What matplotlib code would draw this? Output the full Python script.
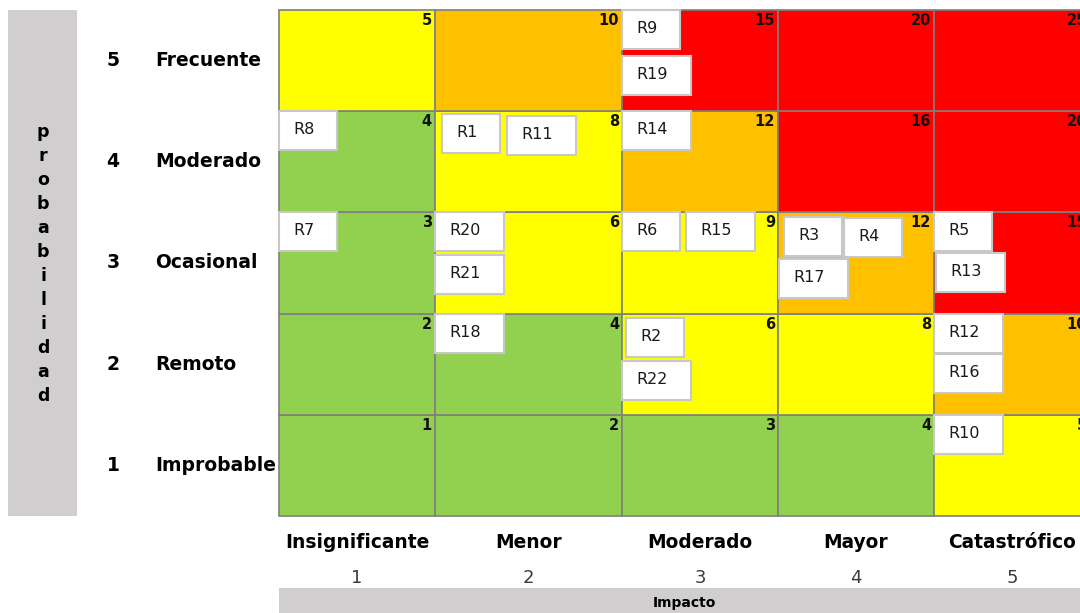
"""
Risk matrix (probabilidad x impacto) with the risks placed in their cells
"""

import matplotlib
matplotlib.use("Agg")
import numpy as np
import matplotlib.pyplot as plt
from matplotlib.patches import Rectangle


# Categories
prob_labels = ['Improbable', 'Remoto', 'Ocasional', 'Moderado', 'Frecuente']
impact_labels = ['Insignificante', 'Menor', 'Moderado', 'Mayor', 'Catastrófico']

# Score levels: upper limit of each level and its colour
level_limits = [4, 9, 12, 25]
level_colors = ['#92D050', '#FFFF00', '#FFC000', '#FF0000']

# Risks: name, probability (1-5), impact (1-5)
risk_names = ['R1', 'R2', 'R3', 'R4', 'R5', 'R6', 'R7', 'R8', 'R9', 'R10', 'R11',
              'R12', 'R13', 'R14', 'R15', 'R16', 'R17', 'R18', 'R19', 'R20', 'R21', 'R22']
risk_prob = [4, 2, 3, 3, 3, 3, 3, 4, 5, 1, 4, 2, 3, 4, 3, 2, 3, 2, 5, 3, 3, 2]
risk_impact = [2, 3, 4, 4, 5, 3, 1, 1, 3, 5, 2, 5, 5, 3, 3, 5, 4, 2, 3, 2, 2, 3]

# Layout (pixels): offset of each risk box from the top-left corner of its cell
box_offset = {
    'R1': (7, 3), 'R2': (4, 4), 'R3': (6, 5), 'R4': (66, 6), 'R5': (0, 0),
    'R6': (0, 0), 'R7': (0, 0), 'R8': (0, 0), 'R9': (0, 0), 'R10': (0, 0),
    'R11': (72, 5), 'R12': (0, 0), 'R13': (2, 41), 'R14': (0, 0), 'R15': (64, 0),
    'R16': (0, 40), 'R17': (1, 47), 'R18': (0, 0), 'R19': (0, 46), 'R20': (0, 0),
    'R21': (0, 43), 'R22': (0, 47),
}

W, H = 1080, 613
col_w = np.array([156, 187, 156, 156, 156])
row_h = 101.2
col_edges = np.concatenate([[0], np.cumsum(col_w)])
grid_left, grid_top = 279, 10
grid_w, grid_h = col_edges[-1], row_h * 5

GRID_EDGE = '#7F7F7F'
BAR_GRAY = '#D0CECE'


def level_color(score):
    for limit, color in zip(level_limits, level_colors):
        if score <= limit:
            return color
    return level_colors[-1]


fig = plt.figure(figsize=(W / 100, H / 100), dpi=100)
ax = fig.add_axes([grid_left / W, 1 - (grid_top + grid_h) / H, grid_w / W, grid_h / H])
ax.set_xlim(0, grid_w)
ax.set_ylim(0, grid_h)
ax.axis('off')

# Cells with score
for p in range(1, 6):
    for i in range(1, 6):
        x0 = col_edges[i - 1]
        y0 = (p - 1) * row_h
        score = p * i
        ax.add_patch(Rectangle((x0, y0), col_w[i - 1], row_h, facecolor=level_color(score),
                               edgecolor=GRID_EDGE, linewidth=1.2, clip_on=False))
        ax.annotate(str(score), xy=(col_edges[i], p * row_h), xytext=(-3, -3),
                    textcoords='offset pixels', ha='right', va='top',
                    fontsize=10.5, fontweight='bold', color='#111111',
                    annotation_clip=False)

# Risk boxes
for name, p, i in zip(risk_names, risk_prob, risk_impact):
    dx, dy = box_offset[name]
    bw = 58 if len(name) == 2 else 69
    bh = 39
    x0 = col_edges[i - 1] + dx
    top = p * row_h - dy
    ax.add_patch(Rectangle((x0, top - bh), bw, bh, facecolor='white',
                           edgecolor='#C8C8C8', linewidth=1.5, zorder=3, clip_on=False))
    ax.text(x0 + 14, top - bh / 2 + 1, name, ha='left', va='center', fontsize=11.5,
            color='#1A1A1A', zorder=4)

# Row labels (probability)
for p, label in enumerate(prob_labels, start=1):
    yc = (p - 0.5) * row_h
    ax.annotate(str(p), xy=(0, yc), xytext=(-166, 0), textcoords='offset pixels',
                ha='center', va='center', fontsize=13.5, fontweight='bold',
                annotation_clip=False)
    ax.annotate(label, xy=(0, yc), xytext=(-124, 0), textcoords='offset pixels',
                ha='left', va='center', fontsize=13.5, fontweight='bold',
                annotation_clip=False)

# Column labels (impact)
for i, label in enumerate(impact_labels, start=1):
    xc = (col_edges[i - 1] + col_edges[i]) / 2
    ax.annotate(label, xy=(xc, 0), xytext=(0, -27), textcoords='offset pixels',
                ha='center', va='center', fontsize=13.4, fontweight='bold',
                annotation_clip=False)
    ax.annotate(str(i), xy=(xc, 0), xytext=(0, -62), textcoords='offset pixels',
                ha='center', va='center', fontsize=13, color='#3A3A3A',
                annotation_clip=False)

# Side bar "probabilidad"
fig.add_artist(Rectangle((8 / W, 1 - (grid_top + grid_h) / H), 69 / W, grid_h / H,
                         transform=fig.transFigure, facecolor=BAR_GRAY, edgecolor='none'))
fig.text(43 / W, 1 - 264 / H, '\n'.join('probabilidad'), ha='center', va='center',
         fontsize=12.5, fontweight='bold', linespacing=1.43)

# Bottom bar "Impacto"
fig.add_artist(Rectangle((grid_left / W, 0), grid_w / W, 25 / H,
                         transform=fig.transFigure, facecolor=BAR_GRAY, edgecolor='none'))
fig.text((grid_left + grid_w / 2) / W, 1 - 603 / H, 'Impacto', ha='center', va='center',
         fontsize=10, fontweight='bold')

fig.savefig('out.png', dpi=100)
